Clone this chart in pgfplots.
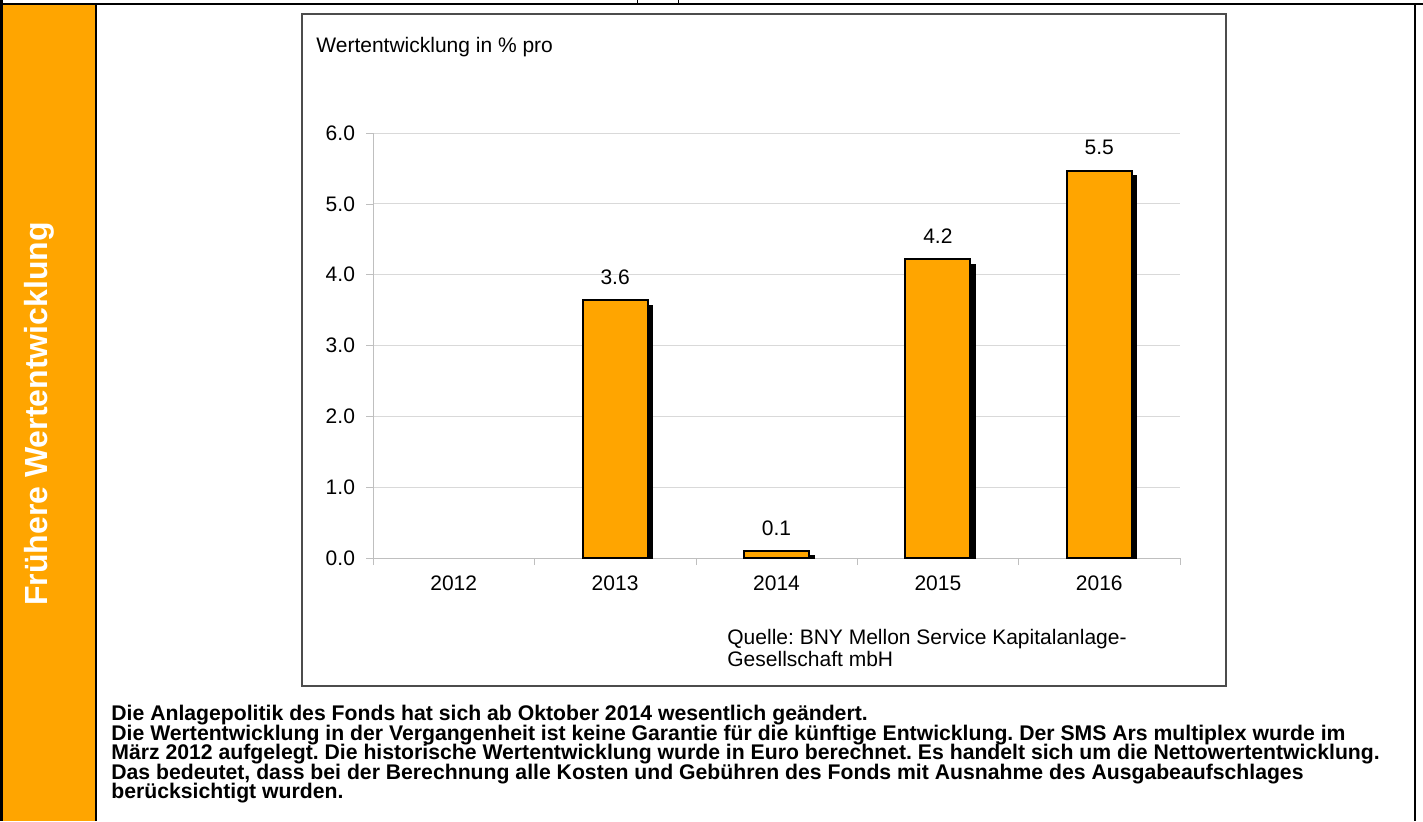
\documentclass[border=0pt]{standalone}
\usepackage{pgfplots}
\pgfplotsset{compat=1.18}
\usepackage{fontspec}
\setmainfont{Liberation Sans}
\definecolor{orng}{HTML}{FFA500}
\definecolor{gridc}{HTML}{D9D9D9}
\definecolor{axc}{HTML}{BFBFBF}
\frenchspacing
\begin{document}
\frenchspacing
\begin{tikzpicture}
\useasboundingbox (0,0) rectangle (711.5pt,-410.5pt);
\begin{scope}[x=0.5pt,y=-0.5pt]
  % sidebar
  \fill[orng] (2,4) rectangle (95,821);
  \draw[black,line width=1.5pt] (1.5,0) -- (1.5,821);
  \draw[black,line width=1.2pt] (96,4) -- (96,821);
  \draw[black,line width=1pt] (1415,4) -- (1415,821);
  \draw[black,line width=1.1pt] (0,3.6) -- (1423,3.6);
  \draw[black,line width=0.5pt] (637,0) -- (637,2.5);
  \draw[black,line width=0.5pt] (678,0) -- (678,2.5);
  \node[rotate=90,text=white,font=\bfseries\fontsize{16pt}{19pt}\selectfont] at (39,414) {Frühere Wertentwicklung};
  % chart box
  \draw[gray!60!black,line width=0.6pt] (302,14) rectangle (1226,686);
  \node[anchor=base west,inner sep=0pt,font=\fontsize{10.5pt}{12.6pt}\selectfont] at (316,52) {Wertentwicklung in \% pro};
  \node[anchor=base west,inner sep=0pt,font=\fontsize{10.5pt}{12.6pt}\selectfont] at (727,644) {Quelle: BNY Mellon Service Kapitalanlage-};
  \node[anchor=base west,inner sep=0pt,font=\fontsize{10.5pt}{12.6pt}\selectfont] at (727,666) {Gesellschaft mbH};
  % bottom text
  \begin{scope}[every node/.style={anchor=base west,inner sep=0pt,font=\bfseries\fontsize{10.6pt}{10pt}\selectfont}]
    \node at (111,720.7) {Die Anlagepolitik des Fonds hat sich ab Oktober 2014 wesentlich geändert.};
    \node at (111,740.2) {Die Wertentwicklung in der Vergangenheit ist keine Garantie für die künftige Entwicklung. Der SMS Ars multiplex wurde im};
    \node at (111,759.7) {März 2012 aufgelegt. Die historische Wertentwicklung wurde in Euro berechnet. Es handelt sich um die Nettowertentwicklung.};
    \node at (111,779.2) {Das bedeutet, dass bei der Berechnung alle Kosten und Gebühren des Fonds mit Ausnahme des Ausgabeaufschlages};
    \node at (111,798.7) {berücksichtigt wurden.};
  \end{scope}
\end{scope}
\begin{axis}[
  at={(186.5pt,-279pt)}, anchor=south west,
  scale only axis, width=403.5pt, height=212.5pt,
  xmin=-0.5, xmax=4.5, ymin=0, ymax=6,
  axis x line*=bottom, axis y line*=left,
  axis line style={draw=axc,-},
  ymajorgrids, grid style={draw=gridc},
  ytick={0,1,...,6},
  xtick={0,1,2,3,4},
  xticklabels={2012,2013,2014,2015,2016},
  minor xtick={-0.5,0.5,1.5,2.5,3.5,4.5},
  tick align=outside,
  major tick length=3.5pt, minor tick length=3.5pt,
  major x tick style={draw=none},
  minor x tick style={draw=axc},
  major y tick style={draw=axc},
  /pgf/number format/assume math mode=true,
  /pgf/number format/.cd, fixed, fixed zerofill, precision=1, /pgfplots/.cd,
  tick label style={font=\fontsize{10.5pt}{12.6pt}\selectfont},
  xticklabel style={yshift=-2pt},
  yticklabel style={xshift=-2pt},
  clip=false,
]
\addplot[ybar, bar width=32.5pt, bar shift=2.5pt, fill=black, draw=black]
  coordinates {(1,3.57) (2,0.03) (3,4.15) (4,5.40)};
\addplot[ybar, bar width=32.5pt, bar shift=0pt, fill=orng, draw=black, line width=1pt,
  nodes near coords,
  nodes near coords style={font=\fontsize{10.5pt}{12.6pt}\selectfont, anchor=south, yshift=4pt, /pgf/number format/fixed, /pgf/number format/fixed zerofill, /pgf/number format/precision=1}]
  coordinates {(1,3.64) (2,0.10) (3,4.22) (4,5.47)};
\end{axis}
\end{tikzpicture}
\end{document}
